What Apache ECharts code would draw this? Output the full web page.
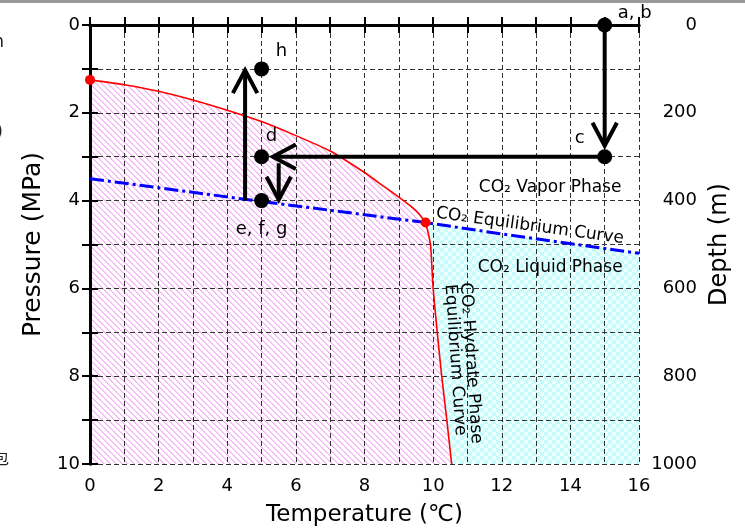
<!DOCTYPE html>
<html><head><meta charset="utf-8">
<script src="https://cdn.jsdelivr.net/npm/echarts@6/dist/echarts.min.js"></script>
<style>html,body{margin:0;padding:0;background:#fff}#c{width:745px;height:529px}</style>
</head><body><div id="c"></div>
<script>
// ---- data ----
const tempTickLabels = [0, 2, 4, 6, 8, 10, 12, 14, 16];
const pressureTickLabels = [0, 2, 4, 6, 8, 10];
const depthTickLabels = [0, 200, 400, 600, 800, 1000];

const vaporHydrateCurve = [[0,1.25],[1,1.36],[2,1.51],[3,1.71],[4,1.94],[5,2.2],[6,2.52],[7,2.87],[8,3.36],[8.5,3.64],[9,3.92],[9.4,4.16],[9.6,4.31],[9.78,4.5]];
const liquidHydrateCurve = [[9.78,4.5],[9.86,4.75],[9.93,5.05],[10.0,6.0],[10.12,7.0],[10.25,8.0],[10.4,9.0],[10.54,10.0]];
const co2EquilibriumCurve = [[0,3.5],[5,4.02],[9.78,4.5],[12,4.76],[16,5.2]];
const specialPoints = [[0,1.25],[9.78,4.5]];
const statePoints = [[15,0],[15,3],[5,3],[5,1],[5,4]];
const stateNames = ['a, b','c','d','h','e, f, g'];
const pathArrows = [[15,0,15,2.75],[15,3,5.33,3],[5.5,3.15,5.5,3.98],[4.52,4.0,4.52,1.03]];
const phaseTextPos = [[13.41,3.71],[13.41,5.52],[12.82,4.58],[11.1,7.7],[10.64,7.63]];
const phaseTextNames = ['CO\u2082 Vapor Phase','CO\u2082 Liquid Phase','CO\u2082 Equilibrium Curve','CO\u2082 Hydrate Phase','Equilibrium Curve'];

// ---- patterns ----
function stripePattern(){
  const s = 6, c = document.createElement('canvas'); c.width = s; c.height = s;
  const g = c.getContext('2d');
  g.fillStyle = '#ffffff'; g.fillRect(0,0,s,s);
  for (let y = 0; y < s; y++) {
    g.fillStyle = '#f4b2f4'; g.fillRect(y % s, y, 1, 1);
    g.fillStyle = '#f9d0f9'; g.fillRect((y + 1) % s, y, 1, 1);
  }
  return c;
}
function checkPattern(){
  const s = 8, c = document.createElement('canvas'); c.width = s; c.height = s;
  const g = c.getContext('2d');
  g.fillStyle = '#ecffff'; g.fillRect(0,0,s,s);
  g.fillStyle = '#c8fcfc'; g.fillRect(0,0,4,4); g.fillRect(4,4,4,4);
  return c;
}

const hydrateRegion = vaporHydrateCurve.concat(liquidHydrateCurve.slice(1), [[0,10]]);
const liquidRegion = co2EquilibriumCurve.filter(p => p[0] >= 9.78).concat([[16,10]], liquidHydrateCurve.slice().reverse());

function regionSeries(points, pattern){
  return {
    type: 'custom', z: -1, silent: true, data: [0],
    renderItem: function(params, api){
      return { type: 'polygon', shape: { points: points.map(p => api.coord(p)) },
        style: { fill: { image: pattern, repeat: 'repeat' } } };
    }
  };
}

const labelOffsets = [[30,-12],[-25,-18],[10,-20],[20,-18],[0,29]];
const phaseRotate = [0, 0, -7.8, -86, -86];

const chart = echarts.init(document.getElementById('c'), null, {renderer: 'canvas'});
const axisLineStyle = { color: '#000', width: 3 };
const tickStyle = { show: true, inside: true, length: 8, lineStyle: { color: '#000', width: 2 } };

chart.setOption({
  animation: false,
  textStyle: { fontFamily: 'DejaVu Sans' },
  grid: { left: 90, right: 106, top: 25, bottom: 65, containLabel: false, outerBoundsMode: 'none' },
  graphic: [
    { type: 'rect', shape: { x: 0, y: 0, width: 745, height: 3 }, style: { fill: '#9a9a9a' } },
    { type: 'text', x: 4, y: 43, style: { text: 'h', fontSize: 17, fontFamily: 'DejaVu Sans', align: 'right', verticalAlign: 'middle', fill: '#222' } },
    { type: 'text', x: 3, y: 133, style: { text: ')', fontSize: 17, fontFamily: 'DejaVu Sans', align: 'right', verticalAlign: 'middle', fill: '#222' } },
    { type: 'text', x: 9, y: 458, style: { text: '包', fontSize: 16, fontFamily: 'Noto Sans CJK SC', align: 'right', verticalAlign: 'middle', fill: '#222' } }
  ],
  xAxis: [
    { type: 'value', position: 'bottom', min: 0, max: 16, interval: 1,
      name: 'Temperature (\u2103)', nameLocation: 'middle', nameGap: 40,
      nameTextStyle: { fontSize: 23, color: '#000' },
      axisLine: { lineStyle: axisLineStyle }, axisTick: tickStyle,
      axisLabel: { fontSize: 18, color: '#000', margin: 13, formatter: v => tempTickLabels.includes(v) ? String(v) : '' },
      splitLine: { show: true, lineStyle: { color: '#333', width: 1, type: [5, 3] } } },
    { type: 'value', position: 'top', min: 0, max: 16, interval: 1,
      axisLine: { lineStyle: axisLineStyle }, axisTick: tickStyle,
      axisLabel: { show: false }, splitLine: { show: false } }
  ],
  yAxis: [
    { type: 'value', position: 'left', min: 0, max: 10, interval: 1, inverse: true,
      name: 'Pressure (MPa)', nameLocation: 'middle', nameGap: 39,
      nameTextStyle: { fontSize: 25, color: '#000' },
      axisLine: { lineStyle: axisLineStyle }, axisTick: tickStyle,
      axisLabel: { fontSize: 18, color: '#000', margin: 10, formatter: v => pressureTickLabels.includes(v) ? String(v) : '' },
      splitLine: { show: true, lineStyle: { color: '#333', width: 1, type: [5, 3] } } },
    { type: 'value', position: 'right', min: 0, max: 1000, interval: 100, inverse: true,
      name: 'Depth (m)', nameLocation: 'middle', nameGap: 69,
      nameTextStyle: { fontSize: 24, color: '#000' },
      axisLine: { lineStyle: axisLineStyle }, axisTick: tickStyle,
      axisLabel: { fontSize: 18, color: '#000', margin: 58, align: 'right', formatter: v => depthTickLabels.includes(v) ? String(v) : '' },
      splitLine: { show: false } }
  ],
  series: [
    regionSeries(hydrateRegion, stripePattern()),
    regionSeries(liquidRegion, checkPattern()),
    { type: 'line', data: vaporHydrateCurve, showSymbol: false, smooth: 0.15, silent: true, z: 3,
      lineStyle: { color: '#ff0000', width: 1.6 } },
    { type: 'line', data: liquidHydrateCurve, showSymbol: false, smooth: 0.15, silent: true, z: 3,
      lineStyle: { color: '#ff0000', width: 1.6 } },
    { type: 'line', data: co2EquilibriumCurve, showSymbol: false, silent: true, z: 4,
      lineStyle: { color: '#0000ff', width: 3, type: [14, 4, 3, 4] } },
    { type: 'scatter', data: specialPoints, symbolSize: 10, silent: true, z: 5,
      itemStyle: { color: '#ff0000', opacity: 1 } },
    { type: 'custom', silent: true, z: 6, data: pathArrows, encode: { x: [0, 2], y: [1, 3] },
      renderItem: function(params, api){
        const a = api.coord([api.value(0), api.value(1)]);
        const b = api.coord([api.value(2), api.value(3)]);
        const ang = Math.atan2(b[1] - a[1], b[0] - a[0]);
        const L = 26, h = 28 * Math.PI / 180;
        const p1 = [b[0] - L * Math.cos(ang - h), b[1] - L * Math.sin(ang - h)];
        const p2 = [b[0] - L * Math.cos(ang + h), b[1] - L * Math.sin(ang + h)];
        return { type: 'group', children: [
          { type: 'line', shape: { x1: a[0], y1: a[1], x2: b[0], y2: b[1] }, style: { stroke: '#000', lineWidth: 4 } },
          { type: 'polyline', shape: { points: [p1, b, p2] }, style: { stroke: '#000', lineWidth: 4, fill: null, lineJoin: 'miter' } }
        ]};
      } },
    { type: 'scatter', symbolSize: 15, silent: true, z: 7, itemStyle: { color: '#000', opacity: 1 },
      data: statePoints.map((p, i) => ({ value: p, name: stateNames[i],
        label: { show: true, position: 'inside', offset: labelOffsets[i], formatter: '{b}', color: '#000', fontSize: 18 } })) },
    { type: 'scatter', symbolSize: 0, silent: true, z: 8, itemStyle: { opacity: 1 },
      data: phaseTextPos.map((p, i) => ({ value: p, name: phaseTextNames[i],
        label: { show: true, position: 'inside', rotate: phaseRotate[i], formatter: '{b}', color: '#000', fontSize: 17 } })) }
  ]
});
</script></body></html>
